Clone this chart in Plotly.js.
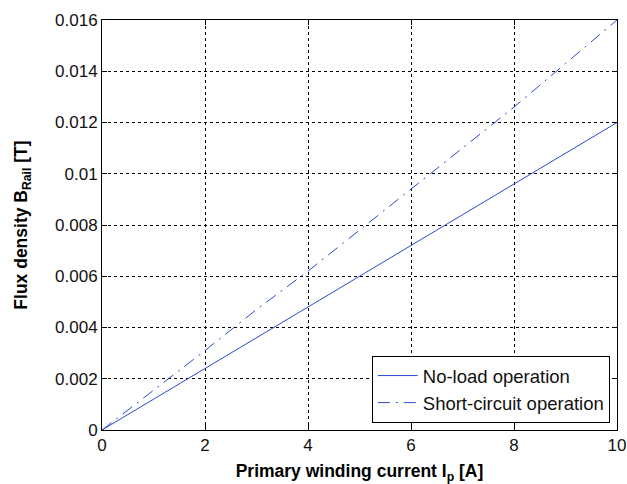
<!DOCTYPE html>
<html>
<head>
<meta charset="utf-8">
<script src="https://cdn.plot.ly/plotly-3.0.1.min.js"></script>
<style>html,body{margin:0;padding:0;background:#fff;}#chart{width:627px;height:484px;}</style>
</head>
<body>
<div id="chart"></div>
<script>
const current = [0, 1, 2, 3, 4, 5, 6, 7, 8, 9, 10];
const noLoad = [0, 0.0012, 0.0024, 0.0036, 0.0048, 0.0060, 0.0072, 0.0084, 0.0096, 0.0108, 0.0120];
const shortCircuit = [0, 0.00155, 0.0031, 0.0047, 0.0062, 0.0078, 0.0094, 0.0110, 0.0126, 0.0143, 0.0160];
const seriesNames = ["No-load operation", "Short-circuit operation"];
const xTicks = [0, 2, 4, 6, 8, 10];
const yTicks = [0, 0.002, 0.004, 0.006, 0.008, 0.01, 0.012, 0.014, 0.016];
const yTickText = ["0", "0.002", "0.004", "0.006", "0.008", "0.01", "0.012", "0.014", "0.016"];

const lineColor = "#2a4bd0";
const traces = [
  {x: current, y: noLoad, name: seriesNames[0], mode: "lines",
   line: {color: lineColor, width: 1, dash: "solid"}},
  {x: current, y: shortCircuit, name: seriesNames[1], mode: "lines",
   line: {color: lineColor, width: 1, dash: "12px,6px,2px,6px"}}
];
const font = {family: "Liberation Sans, Arial, sans-serif", size: 17, color: "#111"};
const axisCommon = {
  showline: true, mirror: "ticks", linecolor: "#000", linewidth: 1,
  ticks: "inside", ticklen: 5, tickcolor: "#000",
  showgrid: true, gridcolor: "#000", gridwidth: 1, griddash: "3px,3px",
  zeroline: false, tickfont: {family: font.family, size: 17, color: "#111"}
};
const layout = {
  width: 627, height: 484,
  margin: {l: 102, r: 10, t: 20, b: 54},
  paper_bgcolor: "#fff", plot_bgcolor: "#fff",
  font: font,
  showlegend: true,
  legend: {x: 0.986, y: 0.017, xanchor: "right", yanchor: "bottom",
    bgcolor: "#fff", bordercolor: "#000", borderwidth: 1,
    font: {family: font.family, size: 18.5, color: "#111"},
    tracegroupgap: 0, itemwidth: 40},
  xaxis: Object.assign({}, axisCommon, {
    range: [0, 10], tickvals: xTicks, ticktext: xTicks.map(String),
    title: {text: "<b>Primary winding current I<sub>p</sub> [A]</b>", standoff: 11,
      font: {family: font.family, size: 17.5, color: "#000"}}
  }),
  yaxis: Object.assign({}, axisCommon, {
    range: [0, 0.016], tickvals: yTicks, ticktext: yTickText,
    title: {text: "<b>Flux density B<sub>Rail</sub> [T]</b>", standoff: 22,
      font: {family: font.family, size: 17.5, color: "#000"}}
  })
};
Plotly.newPlot("chart", traces, layout, {staticPlot: true, displayModeBar: false});
</script>
</body>
</html>
